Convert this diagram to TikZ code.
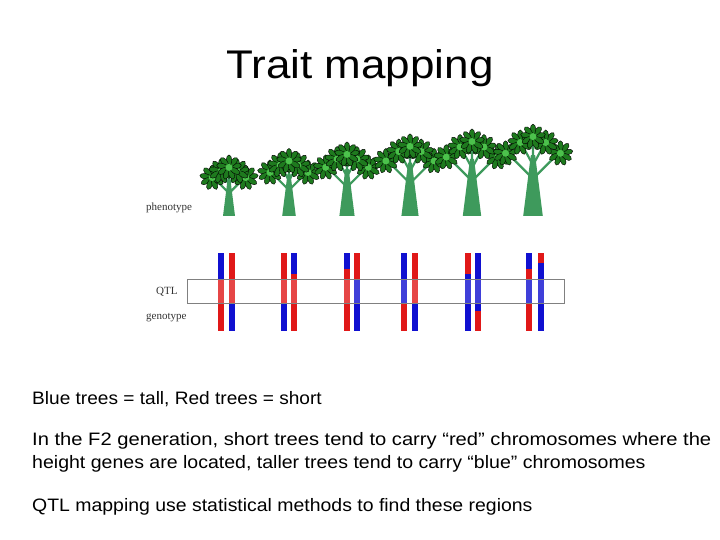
\documentclass[tikz,border=0pt]{standalone}
\usepackage{fontspec}
\setmainfont{Liberation Sans}
\newfontfamily\serifl{Liberation Serif}
\definecolor{trunkg}{HTML}{3E9A5C}
\definecolor{leafd}{HTML}{1E7A1E}
\definecolor{leafl}{HTML}{4CC24C}
\definecolor{cblue}{HTML}{1010D0}
\definecolor{cred}{HTML}{E01818}
\tikzset{
  x=1pt,y=1pt,
  leaf/.style={fill=leafd,draw=black,line width=0.4pt},
  branch/.style={draw=trunkg,line width=2.2pt,line cap=round},
  lbl/.style={font=\serifl\fontsize{11}{12}\selectfont,text=black!80,anchor=west,inner sep=0pt},
  body/.style={font=\fontsize{18}{21}\selectfont,anchor=base west,inner sep=0pt,transform shape},
  pics/cluster/.style={code={
    \foreach \a in {10,50,90,130,170,210,250,290,330}{
      \fill[leaf,rotate=\a] (7,0) ellipse (5.5 and 2.8);}
    \fill[leafl] (0,0) circle (3.5);
  }},
  pics/tree/.style={code={
    \draw[branch] (0,38)--(-24,62) (0,38)--(24,62) (0,52)--(-12,74) (0,52)--(12,74) (0,55)--(0,80);
    \fill[trunkg] (-10,0)--(10,0)--(2.2,62)--(-2.2,62)--cycle;
    \pic at (-28,64) {cluster};
    \pic at (28,64) {cluster};
    \pic at (-13,75) {cluster};
    \pic at (13,75) {cluster};
    \pic at (0,81) {cluster};
  }}
}
\newcommand{\chrom}[2]{%
  \foreach \ya/\yb/\cc in {#2}{\fill[\cc] (#1-3,540-\ya) rectangle (#1+3,540-\yb);}}
\begin{document}
\begin{tikzpicture}
\fill[white] (0,0) rectangle (720,540);
\useasboundingbox (0,0) rectangle (720,540);
\node[font=\fontsize{40}{44}\selectfont,xscale=1.1,transform shape] (title) at (360,472) {Trait mapping};
% trees
\pic[scale=0.6] (t1) at (229,324) {tree};
\pic[scale=0.68] (t2) at (289,324) {tree};
\pic[scale=0.76] (t3) at (347,324) {tree};
\pic[scale=0.86] (t4) at (410,324) {tree};
\pic[scale=0.92] (t5) at (472,324) {tree};
\pic[scale=0.98] (t6) at (533,324) {tree};
\node[lbl] (ph) at (146,332) {phenotype};
\node[lbl] (qtl) at (156,248) {QTL};
\node[lbl] (ge) at (146,222) {genotype};
% chromosomes
\chrom{221}{253/279/cblue,279/331/cred}
\chrom{232}{253/304/cred,304/331/cblue}
\chrom{284}{253/304/cred,304/331/cblue}
\chrom{294}{253/274/cblue,274/331/cred}
\chrom{347}{253/269/cblue,269/331/cred}
\chrom{357}{253/279/cred,279/331/cblue}
\chrom{404}{253/304/cblue,304/331/cred}
\chrom{415}{253/304/cred,304/331/cblue}
\chrom{468}{253/274/cred,274/331/cblue}
\chrom{478}{253/311/cblue,311/331/cred}
\chrom{529}{253/269/cblue,269/279/cred,279/304/cblue,304/331/cred}
\chrom{541}{253/263/cred,263/331/cblue}
\node[draw=black!50,line width=0.8pt,fill=white,fill opacity=0.2,minimum width=377pt,minimum height=24pt,inner sep=0pt] (box) at (375.5,249) {};
% text
\node[body,xscale=1.06] (l1) at (32,135) {Blue trees = tall, Red trees = short};
\node[body,xscale=1.12] (l2) at (32,94) {In the F2 generation, short trees tend to carry “red” chromosomes where the};
\node[body,xscale=1.085] (l3) at (32,71) {height genes are located, taller trees tend to carry “blue” chromosomes};
\node[body,xscale=1.08] (l4) at (32,28) {QTL mapping use statistical methods to find these regions};
\end{tikzpicture}
\end{document}
